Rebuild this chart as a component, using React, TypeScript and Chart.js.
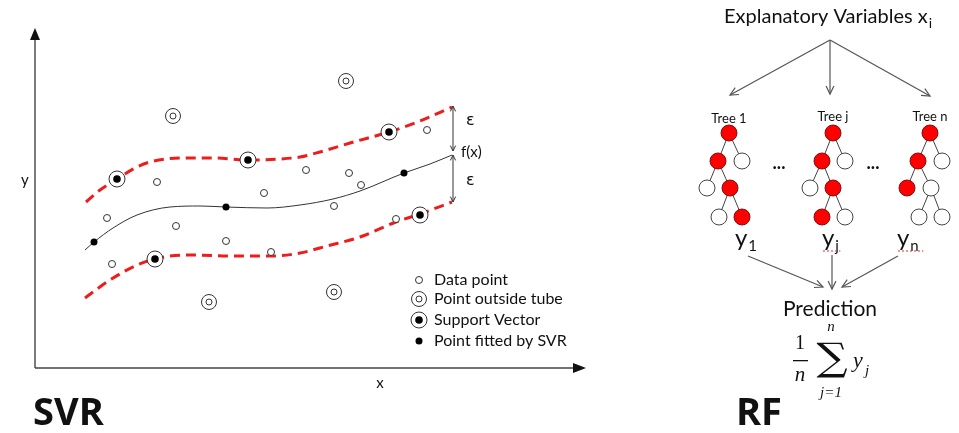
import React, { useEffect, useRef } from "react";
import { Chart, registerables } from "chart.js";
Chart.register(...registerables);

// ---------- SVR panel (diagram units) ----------
const fittedCurve = [[85,250],[94,242],[113,228],[137,215],[170,207],[200,206],[226,207],[267,208],[300,205],[333,199],[360,191],[404,173],[430,164],[452,155]];
const upperTube = [[86,202],[100,190],[117,179],[135,168],[150,162],[183,158],[215,158],[248,160],[280,159],[300,157],[320,152],[350,143],[389,132],[420,121],[452,107]];
const lowerTube = [[85,298],[110,280],[137,265],[155,259],[170,256],[193,255],[233,256],[273,256],[300,253],[327,246],[360,237],[396,222],[420,214],[452,202]];
const dataPoints = [[107,218],[112,264],[157,182],[176,226],[226,241],[264,193],[271,252],[306,170],[334,206],[349,173],[361,185],[396,219],[427,130]];
const outsidePoints = [[173,116],[346,81],[209,302],[334,292]];
const supportVectors = [[117,179],[248,160],[389,132],[420,215],[155,259]];
const fittedPoints = [[94,242],[226,207],[404,173]];
const legendLabels = ["Data point", "Point outside tube", "Support Vector", "Point fitted by SVR"];
const legendRowsY = [280, 299, 320, 341];
const legendMarkerX = 419;
const legendTextX = 434;

// ---------- RF panel ----------
const treeNames = ["Tree 1", "Tree j", "Tree n"];
const treeRootX = [729, 833, 930];
// [x, y, isRed, parentIndex]
const tree1 = [[729,133,1,-1],[718,161,1,0],[742,161,0,0],[707,188,0,1],[730,188,1,1],[719,217,0,4],[742,217,1,4]];
const treeJ = [[833,133,1,-1],[822,161,1,0],[845,161,0,0],[810,188,0,1],[833,188,1,1],[822,217,1,4],[845,217,0,4]];
const treeN = [[930,133,1,-1],[918,161,1,0],[942,161,0,0],[907,188,1,1],[931,188,0,1],[919,217,0,4],[942,217,0,4]];
const trees = [tree1, treeJ, treeN];
const outputLabels = ["1", "j", "n"];
const outputX = [735, 822, 897];

const toXY = (arr: number[][]) => arr.map(([x, y]) => ({ x, y }));

export default function App() {
  const ref = useRef<HTMLCanvasElement>(null);
  useEffect(() => {
    if (!ref.current) return;
    const allNodes = trees.flat();
    const redNodes = allNodes.filter((n) => n[2] === 1);
    const whiteNodes = allNodes.filter((n) => n[2] === 0);

    const drawPlugin = {
      id: "diagram",
      beforeDatasetsDraw(chart: any) {
        const ctx = chart.ctx;
        const sx = chart.scales.x, sy = chart.scales.y;
        const X = (v: number) => sx.getPixelForValue(v);
        const Y = (v: number) => sy.getPixelForValue(v);
        ctx.save();
        // SVR axes
        ctx.strokeStyle = "#444";
        ctx.fillStyle = "#111";
        ctx.lineWidth = 1.4;
        ctx.beginPath();
        ctx.moveTo(X(35), Y(368)); ctx.lineTo(X(35), Y(38));
        ctx.moveTo(X(35), Y(368)); ctx.lineTo(X(575), Y(368));
        ctx.stroke();
        ctx.beginPath();
        ctx.moveTo(X(35), Y(28)); ctx.lineTo(X(30), Y(40)); ctx.lineTo(X(40), Y(40)); ctx.closePath(); ctx.fill();
        ctx.beginPath();
        ctx.moveTo(X(586), Y(368)); ctx.lineTo(X(573), Y(363)); ctx.lineTo(X(573), Y(373)); ctx.closePath(); ctx.fill();

        // tree edges
        ctx.strokeStyle = "#444";
        ctx.lineWidth = 1;
        trees.forEach((t) => {
          t.forEach((n) => {
            if (n[3] < 0) return;
            const p = t[n[3]];
            ctx.beginPath();
            ctx.moveTo(X(p[0]), Y(p[1]));
            ctx.lineTo(X(n[0]), Y(n[1]));
            ctx.stroke();
          });
        });
        ctx.restore();
      },
      afterDatasetsDraw(chart: any) {
        const ctx = chart.ctx;
        const sx = chart.scales.x, sy = chart.scales.y;
        const X = (v: number) => sx.getPixelForValue(v);
        const Y = (v: number) => sy.getPixelForValue(v);
        const openHead = (x1: number, y1: number, x2: number, y2: number, size: number) => {
          const a = Math.atan2(Y(y2) - Y(y1), X(x2) - X(x1));
          const s = 0.45;
          ctx.beginPath();
          ctx.moveTo(X(x2) - size * Math.cos(a - s), Y(y2) - size * Math.sin(a - s));
          ctx.lineTo(X(x2), Y(y2));
          ctx.lineTo(X(x2) - size * Math.cos(a + s), Y(y2) - size * Math.sin(a + s));
          ctx.stroke();
        };
        const arrow = (x1: number, y1: number, x2: number, y2: number, size: number) => {
          ctx.beginPath();
          ctx.moveTo(X(x1), Y(y1));
          ctx.lineTo(X(x2), Y(y2));
          ctx.stroke();
          openHead(x1, y1, x2, y2, size);
        };
        ctx.save();
        // epsilon arrows
        ctx.strokeStyle = "#333";
        ctx.lineWidth = 1;
        arrow(453, 128, 453, 106, 6);
        arrow(453, 128, 453, 151, 6);
        arrow(453, 178, 453, 155, 6);
        arrow(453, 178, 453, 202, 6);

        ctx.fillStyle = "#111";
        ctx.textBaseline = "middle";
        ctx.textAlign = "left";
        ctx.font = "16px 'DejaVu Sans'";
        ctx.fillText("ε", X(466), Y(121));
        ctx.fillText("ε", X(466), Y(181));
        ctx.font = "15px Lato";
        ctx.fillText("f(x)", X(461), Y(152));
        ctx.fillText("y", X(21), Y(180));
        ctx.textAlign = "center";
        ctx.fillText("x", X(380), Y(383));

        // legend text
        ctx.textAlign = "left";
        ctx.font = "16px Lato";
        legendLabels.forEach((l, i) => ctx.fillText(l, X(legendTextX), Y(legendRowsY[i])));

        // titles
        ctx.font = "bold 38px 'Open Sans'";
        ctx.textBaseline = "alphabetic";
        ctx.fillText("SVR", X(33), Y(425));
        ctx.fillText("RF", X(736), Y(425));

        // RF top
        ctx.textBaseline = "middle";
        ctx.font = "20px Lato";
        const t1 = "Explanatory Variables x";
        ctx.fillText(t1, X(724), Y(17));
        const w1 = ctx.measureText(t1).width;
        ctx.font = "14px Lato";
        ctx.fillText("i", X(724) + w1 + 1, Y(23));

        ctx.strokeStyle = "#555";
        ctx.lineWidth = 1.2;
        arrow(830, 40, 730, 95, 9);
        arrow(830, 40, 830, 94, 9);
        arrow(830, 40, 930, 96, 9);

        ctx.fillStyle = "#111";
        ctx.textAlign = "center";
        ctx.font = "13px Lato";
        treeNames.forEach((n, i) => ctx.fillText(n, X(treeRootX[i]), Y(i === 0 ? 119 : 117)));

        ctx.font = "bold 18px Lato";
        ctx.fillText("...", X(779), Y(163));
        ctx.fillText("...", X(873), Y(163));

        // outputs y_k
        ctx.textAlign = "left";
        outputLabels.forEach((s, i) => {
          ctx.font = "24px Lato";
          ctx.fillStyle = "#111";
          ctx.fillText("y", X(outputX[i]), Y(238));
          const w = ctx.measureText("y").width;
          ctx.font = "15px Lato";
          ctx.fillText(s, X(outputX[i]) + w + 1, Y(246));
          if (i > 0) {
            ctx.strokeStyle = "#e03030";
            ctx.lineWidth = 1;
            ctx.setLineDash([2, 2]);
            ctx.beginPath();
            const x0 = X(outputX[i]) + 1;
            const x1 = X(outputX[i]) + w + (i === 2 ? 14 : 6);
            ctx.moveTo(x0, Y(251)); ctx.lineTo(x1, Y(251));
            ctx.stroke();
            ctx.setLineDash([]);
          }
        });

        ctx.strokeStyle = "#555";
        ctx.lineWidth = 1.2;
        arrow(748, 256, 823, 287, 9);
        arrow(832, 255, 832, 289, 9);
        arrow(898, 256, 842, 287, 9);

        ctx.fillStyle = "#111";
        ctx.textAlign = "center";
        ctx.font = "21px Lato";
        ctx.fillText("Prediction", X(830), Y(309));

        // formula
        ctx.font = "20px 'Liberation Serif'";
        ctx.fillText("1", X(800), Y(344));
        ctx.font = "italic 21px 'Liberation Serif'";
        ctx.fillText("n", X(800), Y(375));
        ctx.fillRect(X(793), Y(360), X(808) - X(793), 1.3);
        ctx.font = "italic 15px 'Liberation Serif'";
        ctx.fillText("n", X(831), Y(327));
        ctx.fillText("j=1", X(831), Y(393));
        ctx.save();
        ctx.translate(X(832), Y(360));
        ctx.scale(1.15, 1);
        ctx.font = "38px 'DejaVu Serif'";
        ctx.fillText("∑", 0, 0);
        ctx.restore();
        ctx.textAlign = "left";
        ctx.font = "italic 22px 'Liberation Serif'";
        ctx.fillText("y", X(853), Y(361));
        ctx.font = "italic 15px 'Liberation Serif'";
        ctx.fillText("j", X(865), Y(371));
        ctx.restore();
      },
    };

    const pts = (arr: number[][]) => toXY(arr);
    const legendPt = (i: number) => [{ x: legendMarkerX, y: legendRowsY[i] }];

    const sets: any[] = [
      { data: pts(fittedCurve), showLine: true, borderColor: "#333", borderWidth: 1, pointRadius: 0, cubicInterpolationMode: "monotone" },
      { data: pts(upperTube), showLine: true, borderColor: "#ee1c1c", borderWidth: 3, borderDash: [10, 6], pointRadius: 0, cubicInterpolationMode: "monotone" },
      { data: pts(lowerTube), showLine: true, borderColor: "#ee1c1c", borderWidth: 3, borderDash: [10, 6], pointRadius: 0, cubicInterpolationMode: "monotone" },
      // data points
      { data: [...pts(dataPoints), ...legendPt(0)], pointRadius: 3.5, pointBackgroundColor: "#fff", pointBorderColor: "#333", pointBorderWidth: 1 },
      // outside tube
      { data: [...pts(outsidePoints), ...legendPt(1)], pointRadius: 7.5, pointBackgroundColor: "#fff", pointBorderColor: "#333", pointBorderWidth: 1 },
      { data: [...pts(outsidePoints), ...legendPt(1)], pointRadius: 3, pointBackgroundColor: "#fff", pointBorderColor: "#333", pointBorderWidth: 1 },
      // support vectors
      { data: [...pts(supportVectors), ...legendPt(2)], pointRadius: 8, pointBackgroundColor: "#fff", pointBorderColor: "#333", pointBorderWidth: 1 },
      { data: [...pts(supportVectors), ...legendPt(2)], pointRadius: 3.8, pointBackgroundColor: "#000", pointBorderColor: "#000", pointBorderWidth: 0 },
      // fitted
      { data: [...pts(fittedPoints), ...legendPt(3)], pointRadius: 3.5, pointBackgroundColor: "#000", pointBorderColor: "#000", pointBorderWidth: 0 },
      // tree nodes
      { data: pts(redNodes), pointRadius: 8, pointBackgroundColor: "#ff0000", pointBorderColor: "#7a1010", pointBorderWidth: 1 },
      { data: pts(whiteNodes), pointRadius: 8, pointBackgroundColor: "#fff", pointBorderColor: "#444", pointBorderWidth: 1 },
    ];

    const chart = new Chart(ref.current, {
      type: "scatter",
      data: {
        datasets: sets.map((d, i) => ({ ...d, order: sets.length - i, clip: false, pointHoverRadius: d.pointRadius })),
      },
      options: {
        responsive: false,
        maintainAspectRatio: false,
        animation: false,
        events: [],
        layout: { padding: 0, autoPadding: false },
        plugins: { legend: { display: false }, tooltip: { enabled: false } },
        scales: {
          x: { type: "linear", min: 0, max: 959, display: false },
          y: { type: "linear", min: 0, max: 433, reverse: true, display: false },
        },
      } as any,
      plugins: [drawPlugin],
    });
    return () => chart.destroy();
  }, []);

  return (
    <div style={{ position: "fixed", left: 0, top: 0, width: 959, height: 433, background: "#fff" }}>
      <canvas ref={ref} width={959} height={433} style={{ display: "block", width: 959, height: 433 }} />
    </div>
  );
}
